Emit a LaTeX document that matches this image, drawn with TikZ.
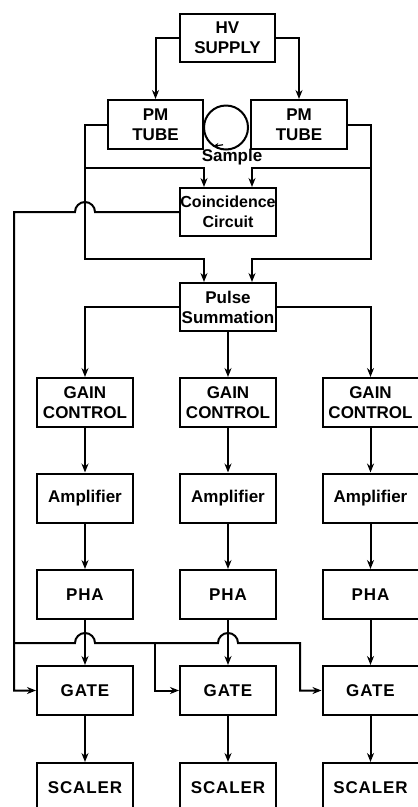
\documentclass[tikz,border=0pt]{standalone}
\usepackage{fontspec}
\setmainfont{Liberation Sans}
\usetikzlibrary{positioning, arrows.meta, calc}

\begin{document}
\begin{tikzpicture}[x=1pt, y=1pt, line width=2pt,
    lbl/.style={font=\bfseries\fontsize{17}{20}\selectfont},
    blk/.style={draw, lbl, minimum width=96pt, minimum height=49pt, align=center, inner sep=0pt},
    capblk/.style={blk, font=\bfseries\fontsize{17}{20}\selectfont\addfontfeature{LetterSpace=5}},
    arr/.style={-{Stealth[length=9pt,width=7pt]}}]

  \useasboundingbox (0,0) rectangle (418,-807);
  \clip (0,0) rectangle (418,-807);

  % detector head
  \node[blk, minimum width=95pt, minimum height=48pt] (hv) at (227.5,-38) {HV\\SUPPLY};
  \node[blk, minimum width=95pt] (pml) at (155.5,-124.5) {PM\\TUBE};
  \node[blk] (pmr) at (299,-124.5) {PM\\TUBE};
  \node[draw, circle, minimum size=44pt, inner sep=0pt] (smpc) at (226,-127.5) {};
  \node[lbl] (smp) at (232,-157) {Sample};
  \node[blk, minimum height=48pt, font=\bfseries\fontsize{16}{20}\selectfont] (coin) at (228,-212) {Coincidence\\Circuit};
  \node[blk, minimum height=48pt] (sum) at (228,-307) {Pulse\\Summation};

  \draw[-{Stealth[length=6pt,width=5pt]}, line width=1.2pt] ([xshift=-9pt]smp.north) -- (smpc.235);

  % three channels
  \foreach \c/\x in {1/85, 2/228, 3/370.5} {
    \node[blk] (gain\c) at (\x,-402.5) {GAIN\\CONTROL};
    \node[blk] (amp\c) at (\x,-498) {Amplifier};
    \node[capblk] (pha\c) at (\x,-594.5) {PHA};
    \node[capblk] (gate\c) at (\x,-690.5) {GATE};
    \node[capblk] (scal\c) at (\x,-787.5) {SCALER};
    \draw[arr] (gain\c) -- (amp\c);
    \draw[arr] (amp\c) -- (pha\c);
    \draw[arr] (pha\c) -- (gate\c);
    \draw[arr] (gate\c) -- (scal\c);
  }

  % HV supply to tubes
  \draw[arr] (hv.west) -| (pml.north);
  \draw[arr] (hv.east) -| (pmr.north);

  % tube outputs
  \coordinate (lc) at (85,-168);
  \coordinate (ls) at (85,-259);
  \coordinate (rc) at (370.5,-168);
  \coordinate (rs) at (370.5,-259);
  \draw[arr] (pml.west) -| (ls) -| ([xshift=-24pt]sum.north);
  \draw[arr] (lc) -| ([xshift=-24pt]coin.north);
  \draw[arr] (pmr.east) -| (rs) -| ([xshift=24pt]sum.north);
  \draw[arr] (rc) -| ([xshift=24pt]coin.north);

  % summation to channels
  \draw[arr] (sum.west) -| (gain1.north);
  \draw[arr] (sum) -- (gain2);
  \draw[arr] (sum.east) -| (gain3.north);

  % coincidence to gates
  \coordinate (gl) at (14,-212);
  \coordinate (gb) at (14,-643);
  \coordinate (g2) at (155,-643);
  \coordinate (g3) at (300,-643);
  \draw[arr] (coin.west) -- (95,-212) arc (0:180:10) -- (gl) |- (gate1.west);
  \draw[arr] (gb) -- (75,-643) arc (180:0:10) -- (218,-643) arc (180:0:10) -- (g3) |- (gate3.west);
  \draw[arr] (g2) |- (gate2.west);
\end{tikzpicture}
\end{document}
